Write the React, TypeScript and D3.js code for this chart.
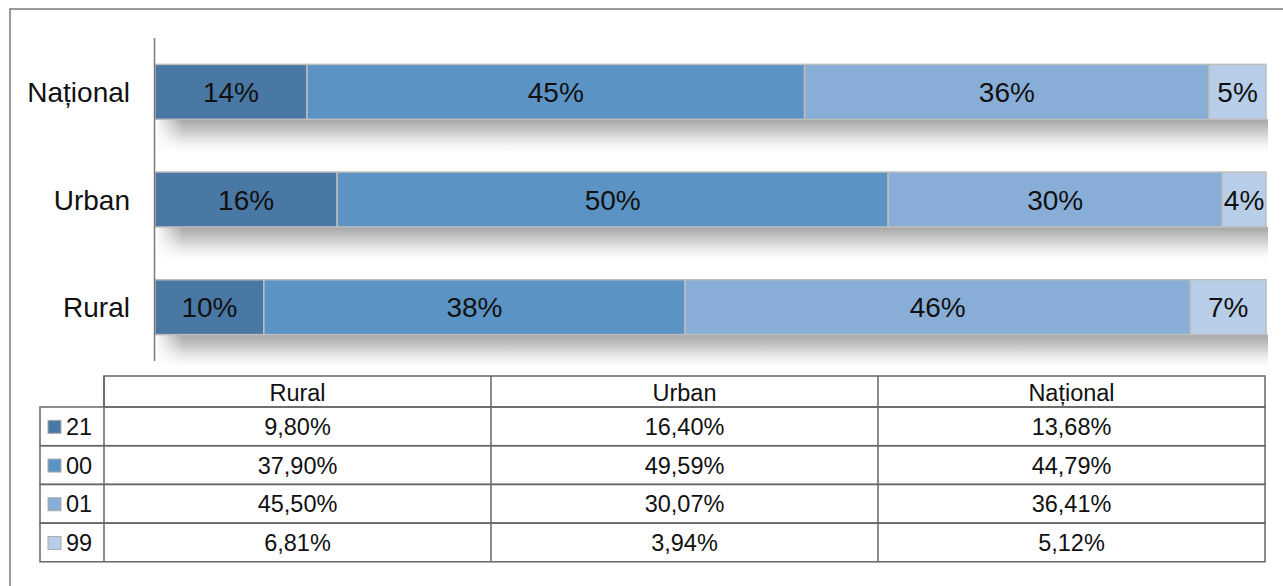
import React from 'react';
import * as d3 from 'd3';

const categories = ['Național', 'Urban', 'Rural'];
const tableColumns = ['Rural', 'Urban', 'Național'];
const seriesNames = ['21', '00', '01', '99'];
const seriesColors = ['#4a78a5', '#5b94c4', '#88aed8', '#b8cee8'];

// values per series, in the order of tableColumns (Rural, Urban, Național)
const s21 = [9.8, 16.4, 13.68];
const s00 = [37.9, 49.59, 44.79];
const s01 = [45.5, 30.07, 36.41];
const s99 = [6.81, 3.94, 5.12];
const seriesValues = [s21, s00, s01, s99];

const fmt = (v: number) => v.toFixed(2).replace('.', ',') + '%';

const App: React.FC = () => {
  const width = 1283;
  const height = 586;
  const font = '"Liberation Sans", Arial, sans-serif';

  const x = d3.scaleLinear().domain([0, 100]).range([155, 1266]);
  const y = d3.scaleBand().domain(categories).range([38, 361]).paddingInner(0.49).paddingOuter(0.245);

  const rows = categories.map(cat => {
    const ci = tableColumns.indexOf(cat);
    const vals = seriesValues.map(s => s[ci]);
    const stack = d3.stack<any>().keys(seriesNames)([
      Object.fromEntries(seriesNames.map((k, i) => [k, vals[i]])),
    ]);
    return { cat, vals, segs: stack.map(s => s[0]) };
  });

  // table geometry
  const colEdges = [104, 491, 878, 1265];
  const tableTop = 376;
  const headerH = 31;
  const rowH = 38.7;
  const legendLeft = 40;

  return (
    <div style={{ position: 'absolute', left: 0, top: 0 }}>
      <svg width={width} height={height} viewBox={`0 0 ${width} ${height}`} style={{ display: 'block', background: '#fff' }}>
        <defs>
          <linearGradient id="shadowV" x1="0" y1="0" x2="0" y2="1">
            <stop offset="0" stopColor="#9a9a9a" stopOpacity={0.9} />
            <stop offset="0.35" stopColor="#b5b5b5" stopOpacity={0.7} />
            <stop offset="0.7" stopColor="#dcdcdc" stopOpacity={0.4} />
            <stop offset="1" stopColor="#ffffff" stopOpacity={0} />
          </linearGradient>
          <linearGradient id="shadowH" x1="0" y1="0" x2="1" y2="0">
            <stop offset="0" stopColor="#fff" stopOpacity={0} />
            <stop offset="0.025" stopColor="#fff" stopOpacity={1} />
            <stop offset="1" stopColor="#fff" stopOpacity={1} />
          </linearGradient>
          <mask id="shadowMask">
            <rect x={155} y={0} width={1114} height={height} fill="url(#shadowH)" />
          </mask>
        </defs>

        {/* outer frame */}
        <path d={`M10,${height + 5}V9H${width + 5}`} fill="none" stroke="#7a7a7a" strokeWidth={1.5} />

        {/* shadows */}
        <g mask="url(#shadowMask)">
          {rows.map(r => (
            <rect
              key={r.cat}
              x={x(0)}
              y={(y(r.cat) || 0) + y.bandwidth()}
              width={x(100) - x(0) + 2}
              height={36}
              fill="url(#shadowV)"
            />
          ))}
        </g>

        {/* bars */}
        {rows.map(r => (
          <g key={r.cat}>
            {r.segs.map((s, i) => (
              <rect
                key={i}
                x={x(s[0])}
                y={y(r.cat)}
                width={x(s[1]) - x(s[0])}
                height={y.bandwidth()}
                fill={seriesColors[i]}
                stroke="#bdbdbd"
                strokeWidth={1.5}
              />
            ))}
            {r.segs.map((s, i) => (
              <text
                key={'t' + i}
                x={(x(s[0]) + x(s[1])) / 2}
                y={(y(r.cat) || 0) + y.bandwidth() / 2}
                dy="0.36em"
                textAnchor="middle"
                fontFamily={font}
                fontSize={28}
                fill="#111"
              >
                {Math.round(r.vals[i])}%
              </text>
            ))}
            <text
              x={130}
              y={(y(r.cat) || 0) + y.bandwidth() / 2}
              dy="0.36em"
              textAnchor="end"
              fontFamily={font}
              fontSize={28}
              fill="#111"
            >
              {r.cat}
            </text>
          </g>
        ))}

        {/* category axis */}
        <line x1={154.5} x2={154.5} y1={38} y2={361} stroke="#7a7a7a" strokeWidth={1.5} />

        {/* data table */}
        <g fontFamily={font} fontSize={23.5} fill="#111" stroke="none">
          <rect x={colEdges[0]} y={tableTop} width={colEdges[3] - colEdges[0]} height={headerH} fill="none" stroke="#666" strokeWidth={1.5} />
          {tableColumns.map((c, i) => (
            <text key={c} x={(colEdges[i] + colEdges[i + 1]) / 2} y={tableTop + headerH / 2 + 1} dy="0.36em" textAnchor="middle">
              {c}
            </text>
          ))}
          {seriesNames.map((name, si) => {
            const top = tableTop + headerH + si * rowH;
            return (
              <g key={name}>
                <rect x={legendLeft} y={top} width={colEdges[3] - legendLeft} height={rowH} fill="none" stroke="#666" strokeWidth={1.5} />
                <rect x={48} y={top + rowH / 2 - 6} width={13} height={13} fill={seriesColors[si]} stroke="#aaa" strokeWidth={1} />
                <text x={66} y={top + rowH / 2} dy="0.36em">{name}</text>
                {tableColumns.map((c, ci) => (
                  <text key={c} x={(colEdges[ci] + colEdges[ci + 1]) / 2} y={top + rowH / 2} dy="0.36em" textAnchor="middle">
                    {fmt(seriesValues[si][ci])}
                  </text>
                ))}
              </g>
            );
          })}
          {colEdges.slice(0, 3).map(cx => (
            <line key={cx} x1={cx} x2={cx} y1={tableTop} y2={tableTop + headerH + 4 * rowH} stroke="#666" strokeWidth={1.5} />
          ))}
        </g>
      </svg>
    </div>
  );
};

export default App;
